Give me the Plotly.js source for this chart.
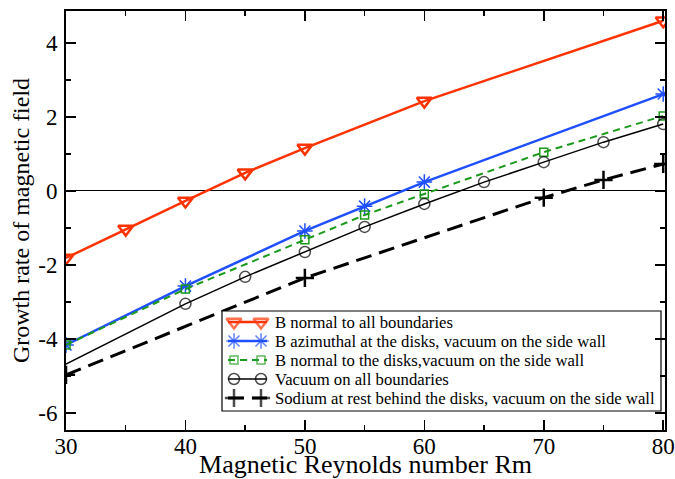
<!DOCTYPE html>
<html>
<head>
<meta charset="utf-8">
<script src="https://cdn.plot.ly/plotly-3.0.1.min.js"></script>
<style>body{margin:0;padding:0;background:#fff}#chart{width:675px;height:479px}</style>
</head>
<body>
<div id="chart"></div>
<script>
// Series: B normal to all boundaries
const rmRed = [30, 35, 40, 45, 50, 60, 80];
const gRed = [-1.81, -1.03, -0.27, 0.49, 1.16, 2.43, 4.6];
// B azimuthal at the disks, vacuum on the side wall
const rmBlue = [30, 40, 50, 55, 60, 80];
const gBlue = [-4.16, -2.57, -1.08, -0.41, 0.24, 2.62];
// B normal to the disks, vacuum on the side wall
const rmGreen = [30, 40, 50, 55, 60, 70, 80];
const gGreen = [-4.16, -2.65, -1.32, -0.65, -0.08, 1.05, 2.03];
// Vacuum on all boundaries
const rmBlack = [30, 40, 45, 50, 55, 60, 65, 70, 75, 80];
const gBlack = [-4.68, -3.05, -2.32, -1.65, -0.97, -0.35, 0.24, 0.78, 1.32, 1.81];
// Sodium at rest behind the disks, vacuum on the side wall
const rmSodium = [30, 50, 70, 75, 80];
const gSodium = [-4.97, -2.35, -0.18, 0.3, 0.73];

const seriesNames = [
  "B normal to all boundaries",
  "B azimuthal at the disks, vacuum on the side wall",
  "B normal to the disks,vacuum on the side wall",
  "Vacuum on all boundaries",
  "Sodium at rest behind the disks, vacuum on the side wall"
];

const xTickVals = [30, 40, 50, 60, 70, 80];
const xTickText = ["30", "40", "50", "60", "70", "80"];
const yTickVals = [-6, -4, -2, 0, 2, 4];
const yTickText = ["-6", "-4", "-2", "0", "2", "4"];

const xTitle = "Magnetic Reynolds number Rm";
const yTitle = "Growth rate of magnetic field";

const serif = "Liberation Serif";

// ---- styles ----
const styles = [
  {line: {color: "#ff3300", width: 2.5},
   marker: {symbol: "triangle-down-open", size: 13, color: "#ff3300", line: {width: 2.5, color: "#ff3300"}}},
  {line: {color: "#1f4fff", width: 2.5},
   marker: {symbol: "asterisk-open", size: 13, color: "#1f4fff", line: {width: 1.5, color: "#1f4fff"}}},
  {line: {color: "#1a9a1a", width: 2, dash: "7px,5px"},
   marker: {symbol: "square-open", size: 8, color: "#1a9a1a", line: {width: 1.5, color: "#1a9a1a"}}},
  {line: {color: "#000000", width: 1.5},
   marker: {symbol: "circle-open", size: 11, color: "#000000", line: {width: 1.5, color: "#000000"}}},
  {line: {color: "#000000", width: 3, dash: "16px,8px"},
   marker: {symbol: "cross-thin-open", size: 13, color: "#000000", line: {width: 2.5, color: "#000000"}}}
];

const seriesX = [rmRed, rmBlue, rmGreen, rmBlack, rmSodium];
const seriesY = [gRed, gBlue, gGreen, gBlack, gSodium];

const traces = seriesX.map((xs, i) => {
  const st = JSON.parse(JSON.stringify(styles[i]));
  if (i === 3) st.marker.size = xs.map((v, k) => k === 0 ? 0 : styles[3].marker.size);
  return {x: xs, y: seriesY[i], name: seriesNames[i], mode: "lines+markers",
          line: st.line, marker: st.marker, showlegend: false, cliponaxis: true};
});

// ---- custom legend drawn on an overlay axis measured in page pixels ----
const plotL = 66, plotR = 665, plotT = 11, plotB = 430;
const box = {x0: 222, x1: 661, y0: 311, y1: 411};
const rowY0 = 322, rowStep = 19;
const sampleX0 = 228, sampleX1 = 267, markA = 234, markB = 261, textX = 273;

traces.push({
  x: [box.x0, box.x1, box.x1, box.x0, box.x0], y: [box.y0, box.y0, box.y1, box.y1, box.y0],
  xaxis: "x2", yaxis: "y2", mode: "lines", fill: "toself", fillcolor: "#ffffff",
  line: {color: "#000", width: 1.2}, showlegend: false, hoverinfo: "skip"
});
seriesNames.forEach((nm, i) => {
  const y = rowY0 + rowStep * i;
  const st = styles[i];
  traces.push({
    x: [sampleX0, markA, markB, sampleX1], y: [y, y, y, y],
    xaxis: "x2", yaxis: "y2", mode: "lines+markers", showlegend: false, hoverinfo: "skip",
    line: st.line,
    marker: Object.assign({}, st.marker, {size: [0, st.marker.size, st.marker.size, 0]})
  });
});

const annotations = seriesNames.map((nm, i) => ({
  xref: "x2", yref: "y2", x: textX, y: rowY0 + rowStep * i,
  xanchor: "left", yanchor: "middle", text: nm, showarrow: false,
  font: {family: serif, size: 16.7, color: "#000"}
}));

const layout = {
  width: 675, height: 479,
  margin: {l: plotL, r: 675 - plotR, t: plotT, b: 479 - plotB},
  paper_bgcolor: "#ffffff", plot_bgcolor: "#ffffff",
  font: {family: serif, color: "#000"},
  showlegend: false,
  annotations: annotations,
  xaxis: {
    range: [30, 80.15], showgrid: false, zeroline: false,
    showline: true, linecolor: "#000", linewidth: 2, mirror: "allticks",
    ticks: "inside", ticklen: 10, tickwidth: 1.5, tickcolor: "#000",
    tickvals: xTickVals, ticktext: xTickText, ticklabelstandoff: -6, ticklabeloverflow: "allow",
    tickfont: {family: serif, size: 23, color: "#000"},
    minor: {dtick: 5, tick0: 30, ticks: "inside", ticklen: 5, tickwidth: 1.5, tickcolor: "#000", showgrid: false},
    title: {text: xTitle, font: {family: serif, size: 26, color: "#000"}, standoff: 9}
  },
  yaxis: {
    range: [-6.46, 4.865], showgrid: false, zeroline: true, zerolinecolor: "#000", zerolinewidth: 1,
    showline: true, linecolor: "#000", linewidth: 2, mirror: "allticks",
    ticks: "inside", ticklen: 10, tickwidth: 1.5, tickcolor: "#000",
    tickvals: yTickVals, ticktext: yTickText, ticklabelstandoff: 2,
    tickfont: {family: serif, size: 23, color: "#000"},
    minor: {dtick: 1, tick0: 0, ticks: "inside", ticklen: 5, tickwidth: 1.5, tickcolor: "#000", showgrid: false},
    title: {text: yTitle, font: {family: serif, size: 24, color: "#000"}, standoff: 2}
  },
  xaxis2: {overlaying: "x", range: [plotL, plotR], visible: false, fixedrange: true},
  yaxis2: {overlaying: "y", range: [plotB, plotT], visible: false, fixedrange: true}
};

Plotly.newPlot("chart", traces, layout, {displayModeBar: false, staticPlot: true});
</script>
</body>
</html>
